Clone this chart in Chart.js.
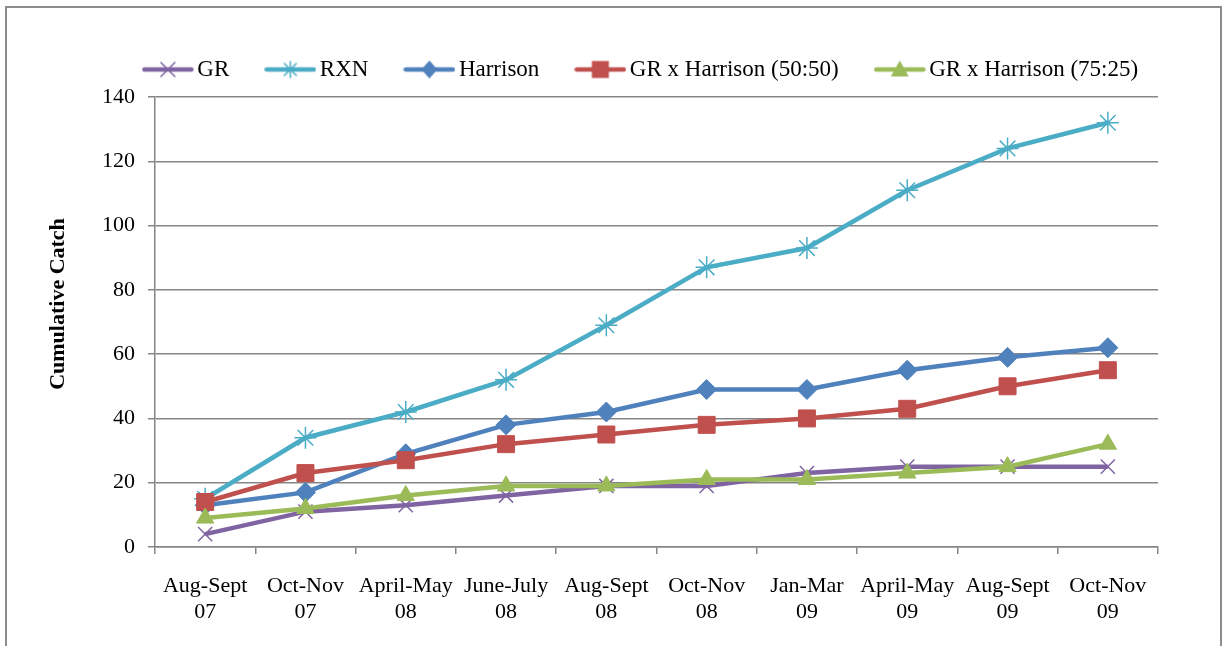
<!DOCTYPE html>
<html>
<head>
<meta charset="utf-8">
<title>Cumulative Catch</title>
<script src="https://cdn.jsdelivr.net/npm/chart.js@4.4.1/dist/chart.umd.min.js"></script>
<style>
  html, body { margin: 0; padding: 0; background: #fff; overflow: hidden; }
  #wrap { position: relative; width: 1224px; height: 646px; }
  #frame { position: absolute; left: 5px; top: 6px; width: 1213px; height: 700px; border: 2px solid #8c8c8c; pointer-events: none; }
</style>
</head>
<body>
<div id="wrap">
  <canvas id="chart" width="1224" height="646"></canvas>
  <div id="frame"></div>
</div>
<script>
// periods (two-line tick labels)
const periods = [
  ['Aug-Sept', '07'], ['Oct-Nov', '07'], ['April-May', '08'], ['June-July', '08'], ['Aug-Sept', '08'],
  ['Oct-Nov', '08'], ['Jan-Mar', '09'], ['April-May', '09'], ['Aug-Sept', '09'], ['Oct-Nov', '09']
];

const seriesNames = ['GR', 'RXN', 'Harrison', 'GR x Harrison (50:50)', 'GR x Harrison (75:25)'];

const grCatch       = [4, 11, 13, 16, 19, 19, 23, 25, 25, 25];
const rxnCatch      = [15, 34, 42, 52, 69, 87, 93, 111, 124, 132];
const harrisonCatch = [13, 17, 29, 38, 42, 49, 49, 55, 59, 62];
const mix5050Catch  = [14, 23, 27, 32, 35, 38, 40, 43, 50, 55];
const mix7525Catch  = [9, 12, 16, 19, 19, 21, 21, 23, 25, 32];

const yTicks = [0, 20, 40, 60, 80, 100, 120, 140];
const yTitle = 'Cumulative Catch';

const colors = ['#8064A2', '#4BACC6', '#4F81BD', '#C0504D', '#9BBB59'];
const markers = ['crossRot', 'star', 'rectRot', 'rect', 'triangle'];
const radii = [10, 11, 10, 12, 10];

const FONT = "'Times New Roman', 'Liberation Serif', serif";

// small canvas used as legend symbol: line with marker in the middle
function legendSymbol(color, style) {
  const c = document.createElement('canvas');
  c.width = 52; c.height = 22;
  const g = c.getContext('2d');
  g.strokeStyle = color; g.fillStyle = color;
  g.lineWidth = 4.5; g.lineCap = 'round';
  g.beginPath(); g.moveTo(2.5, 11); g.lineTo(49.5, 11); g.stroke();
  const cx = 26, cy = 11;
  g.lineWidth = 1.5;
  if (style === 'crossRot') {
    g.beginPath();
    g.moveTo(cx - 7, cy - 7); g.lineTo(cx + 7, cy + 7);
    g.moveTo(cx + 7, cy - 7); g.lineTo(cx - 7, cy + 7);
    g.stroke();
  } else if (style === 'star') {
    g.beginPath();
    g.moveTo(cx, cy - 8); g.lineTo(cx, cy + 8);
    g.moveTo(cx - 6, cy - 6); g.lineTo(cx + 6, cy + 6);
    g.moveTo(cx + 6, cy - 6); g.lineTo(cx - 6, cy + 6);
    g.stroke();
  } else if (style === 'rectRot') {
    g.beginPath();
    g.moveTo(cx, cy - 9); g.lineTo(cx + 8, cy); g.lineTo(cx, cy + 9); g.lineTo(cx - 8, cy);
    g.closePath(); g.fill();
  } else if (style === 'rect') {
    g.fillRect(cx - 8.5, cy - 8.5, 17, 17);
  } else {
    g.beginPath();
    g.moveTo(cx, cy - 9); g.lineTo(cx + 9, cy + 7); g.lineTo(cx - 9, cy + 7);
    g.closePath(); g.fill();
  }
  return c;
}

const seriesData = [grCatch, rxnCatch, harrisonCatch, mix5050Catch, mix7525Catch];

const datasets = seriesNames.map((name, i) => ({
  label: name,
  data: seriesData[i],
  borderColor: colors[i],
  backgroundColor: colors[i],
  borderWidth: 4.5,
  pointStyle: markers[i],
  pointRadius: radii[i],
  pointHoverRadius: radii[i],
  pointBorderWidth: (markers[i] === 'crossRot' || markers[i] === 'star') ? 1.5 : 1,
  pointBorderColor: colors[i],
  pointBackgroundColor: colors[i],
  tension: 0,
  order: seriesNames.length - i   // later series drawn on top
}));

// move the legend a bit after layout so it sits where the original has it
const legendNudge = {
  id: 'legendNudge',
  afterLayout(chart) {
    const lg = chart.legend;
    if (!lg) return;
    lg.top -= 6; lg.bottom -= 6;
    lg.left += 65; lg.right += 65;
  }
};

// y axis title, a little above the middle of the axis like the original
const axisTitle = {
  id: 'axisTitle',
  afterDraw(chart) {
    const { ctx, chartArea } = chart;
    ctx.save();
    ctx.translate(58, (chartArea.top + chartArea.bottom) / 2 - 18);
    ctx.rotate(-Math.PI / 2);
    ctx.font = 'bold 22px ' + FONT;
    ctx.fillStyle = '#000';
    ctx.textAlign = 'center';
    ctx.textBaseline = 'middle';
    ctx.fillText(yTitle, 0, 0);
    ctx.restore();
  }
};

new Chart(document.getElementById('chart'), {
  type: 'line',
  data: { labels: periods, datasets },
  plugins: [legendNudge, axisTitle],
  options: {
    responsive: false,
    animation: false,
    layout: { padding: { left: 0, right: 66, top: 21, bottom: 0 } },
    plugins: {
      tooltip: { enabled: false },
      legend: {
        position: 'top',
        labels: {
          usePointStyle: true,
          pointStyleWidth: 36,
          padding: 43,
          color: '#000',
          font: { family: FONT, size: 23 },
          generateLabels: () => seriesNames.map((name, i) => ({
            text: name,
            pointStyle: legendSymbol(colors[i], markers[i]),
            fillStyle: colors[i],
            strokeStyle: colors[i],
            lineWidth: 0,
            hidden: false,
            datasetIndex: i
          }))
        }
      }
    },
    scales: {
      x: {
        offset: true,
        grid: { offset: true, drawOnChartArea: false, drawTicks: true, tickLength: 7, color: '#868686', lineWidth: 1.5 },
        border: { color: '#868686', width: 1.5 },
        ticks: { color: '#000', font: { family: FONT, size: 22 }, padding: 19, maxRotation: 0, autoSkip: false },
        afterFit: (s) => { s.height = 99; }
      },
      y: {
        min: 0,
        max: 140,
        afterBuildTicks: (s) => { s.ticks = yTicks.map(v => ({ value: v })); },
        grid: { color: '#868686', lineWidth: 1.5, drawTicks: true, tickLength: 7 },
        border: { color: '#868686', width: 1.5 },
        ticks: { color: '#000', font: { family: FONT, size: 22 }, padding: 13 },
        afterFit: (s) => { s.width = 155; }
      }
    }
  }
});
</script>
</body>
</html>
